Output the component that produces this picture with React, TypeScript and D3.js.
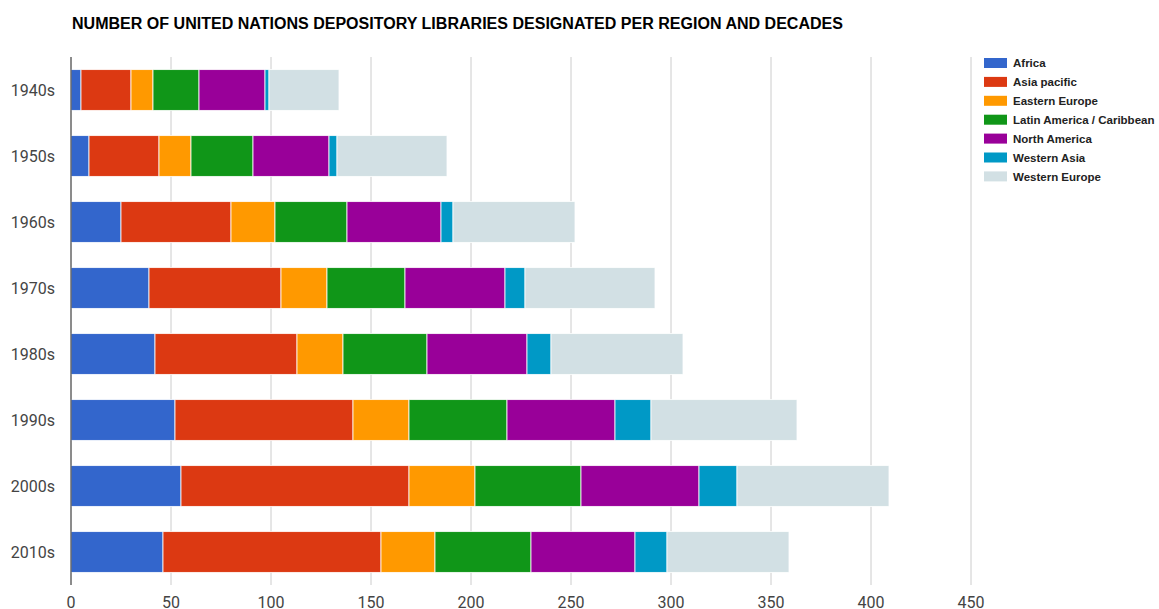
import React from "react";
import * as d3 from "d3";

const decades = ["1940s", "1950s", "1960s", "1970s", "1980s", "1990s", "2000s", "2010s"];
const regions = ["Africa", "Asia pacific", "Eastern Europe", "Latin America / Caribbean", "North America", "Western Asia", "Western Europe"];
const colors = ["#3366cc", "#dc3912", "#ff9900", "#109618", "#990099", "#0099c6", "#d2e0e4"];

const africa = [5, 9, 25, 39, 42, 52, 55, 46];
const asiaPacific = [25, 35, 55, 66, 71, 89, 114, 109];
const easternEurope = [11, 16, 22, 23, 23, 28, 33, 27];
const latinAmerica = [23, 31, 36, 39, 42, 49, 53, 48];
const northAmerica = [33, 38, 47, 50, 50, 54, 59, 52];
const westernAsia = [2, 4, 6, 10, 12, 18, 19, 16];
const westernEurope = [35, 55, 61, 65, 66, 73, 76, 61];

const xTicks = [0, 50, 100, 150, 200, 250, 300, 350, 400, 450];
const title = "NUMBER OF UNITED NATIONS DEPOSITORY LIBRARIES DESIGNATED PER REGION AND DECADES";

const series = [africa, asiaPacific, easternEurope, latinAmerica, northAmerica, westernAsia, westernEurope];

export default function App() {
  const W = 1159, H = 609;
  const left = 71, right = 971, top = 57, bottom = 585;
  const x = d3.scaleLinear().domain([0, 450]).range([left, right]);
  const y = d3.scaleBand().domain(decades).range([top, bottom]).paddingInner(0.38).paddingOuter(0.19);

  const table = decades.map((d, i) => {
    const row: any = { decade: d };
    regions.forEach((r, j) => (row[r] = series[j][i]));
    return row;
  });
  const stacked = d3.stack().keys(regions)(table);

  return (
    <svg width={W} height={H} style={{ position: "absolute", left: 0, top: 0, background: "#fff" }}>
      <text x={72} y={28.5} fontFamily="'Liberation Sans', Arial, sans-serif" fontWeight="bold" fontSize={16} fill="#000"
        textLength={771} lengthAdjust="spacingAndGlyphs">
        {title}
      </text>
      {xTicks.map((t) => (
        <line key={t} x1={x(t)} x2={x(t)} y1={top} y2={bottom} stroke="#cccccc" strokeWidth={1} />
      ))}
      {stacked.map((s, j) => (
        <g key={regions[j]} fill={colors[j]}>
          {s.map((p, i) => (
            <rect
              key={i}
              x={x(p[0])}
              y={y(decades[i])!}
              width={x(p[1]) - x(p[0])}
              height={y.bandwidth()}
              stroke="#ffffff"
              strokeOpacity={0.8}
              strokeWidth={1}
            />
          ))}
        </g>
      ))}
      <line x1={left} x2={left} y1={top} y2={bottom} stroke="#333333" strokeWidth={1} />
      {xTicks.map((t) => (
        <text key={t} x={x(t)} y={607.5} textAnchor="middle" fontFamily="Roboto, sans-serif" fontSize={16} fill="#444444">
          {t}
        </text>
      ))}
      {decades.map((d) => (
        <text key={d} x={55} y={y(d)! + y.bandwidth() / 2 + 5.7} textAnchor="end" fontFamily="Roboto, sans-serif" fontSize={16} fill="#444444">
          {d}
        </text>
      ))}
      {regions.map((r, j) => (
        <g key={r} transform={`translate(0, ${63 + j * 18.9})`}>
          <rect x={984} y={-5} width={23} height={10} fill={colors[j]} />
          <text x={1013} y={4.2} fontFamily="'Liberation Sans', Arial, sans-serif" fontWeight="bold" fontSize={11.5} fill="#222222">
            {r}
          </text>
        </g>
      ))}
    </svg>
  );
}
